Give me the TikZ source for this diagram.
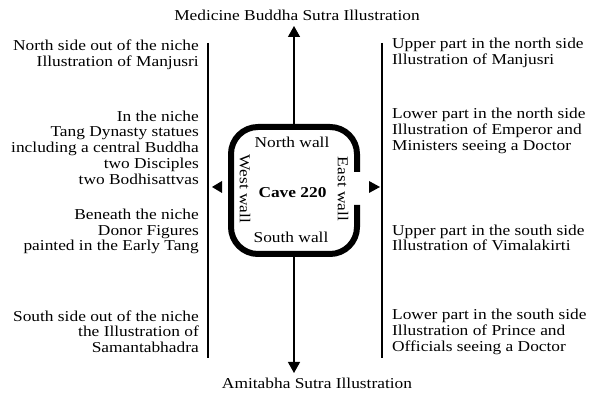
\documentclass[tikz,border=0pt]{standalone}
\usepackage{fontspec}
\setmainfont{Liberation Serif}[FakeStretch=1.15]
\usetikzlibrary{arrows.meta}
\begin{document}
\begin{tikzpicture}[x=1pt,y=-1pt,
  txt/.style={font=\fontsize{15.1pt}{15.7pt}\selectfont, inner sep=0pt},
  lcol/.style={txt, align=right, anchor=east},
  rcol/.style={txt, align=left, anchor=west},
  rule/.style={line width=1.3pt},
  tipline/.style={rule, -{Triangle[length=11pt,width=12pt]}},
  wall/.style={line width=6pt, rounded corners=27pt}
]
\useasboundingbox (0,0) rectangle (590,395);

% titles
\node[txt] (med) at (297,15) {Medicine Buddha Sutra Illustration};
\node[txt] (ami) at (317,383) {Amitabha Sutra Illustration};

% cave
\draw[wall] (357,205) -- (357,254) -- (231,254) -- (231,127) -- (357,127) -- (357,172);
\coordinate (ctop) at (294,124);
\coordinate (cbot) at (294,257);
\coordinate (medtip) at (294,26);
\coordinate (amitip) at (294,373);
\draw[tipline] (ctop) -- (medtip);
\draw[tipline] (cbot) -- (amitip);

\node[txt] (nw) at (292,142) {North wall};
\node[txt] (sw) at (291,237) {South wall};
\node[txt] (cave) at (292.5,193) {\textbf{Cave 220}};
\node[txt, rotate=-90] (ww) at (245,189) {West wall};
\node[txt, rotate=-90] (ew) at (343,189) {East wall};

% side rules
\coordinate (lt) at (208,43);
\coordinate (lb) at (208,358);
\coordinate (rt) at (382,43);
\coordinate (rb) at (382,358);
\draw[rule] (lt) -- (lb);
\draw[rule] (rt) -- (rb);

% side arrowheads
\fill (212,187) -- (222,181) -- (222,193) -- cycle;
\fill (380,187) -- (369,181) -- (369,193) -- cycle;

% left column
\node[lcol] (l1) at (199,55) {North side out of the niche\\Illustration of Manjusri};
\node[lcol] (l2) at (199,147.5) {In the niche\\Tang Dynasty statues\\including a central Buddha\\two Disciples\\two Bodhisattvas};
\node[lcol] (l3) at (199,231.5) {Beneath the niche\\Donor Figures\hspace*{4pt}\\painted in the Early Tang};
\node[lcol] (l4) at (199,331.7) {South side out of the niche\\the Illustration of\hspace*{4pt}\\Samantabhadra};

% right column
\node[rcol] (r1) at (392,53) {Upper part in the north side\\Illustration of Manjusri};
\node[rcol] (r2) at (392,131) {Lower part in the north side\\Illustration of Emperor and\\Ministers seeing a Doctor};
\node[rcol] (r3) at (392,238) {Upper part in the south side\\Illustration of Vimalakirti};
\node[rcol] (r4) at (392,331.7) {Lower part in the south side\\Illustration of Prince and\\Officials seeing a Doctor};
\end{tikzpicture}
\end{document}
